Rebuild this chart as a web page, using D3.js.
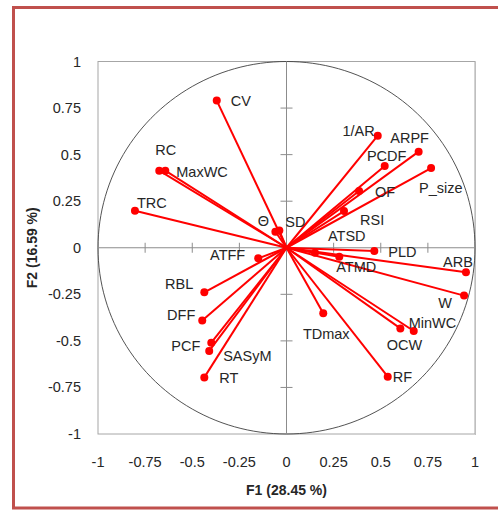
<!DOCTYPE html>
<html><head><meta charset="utf-8">
<script src="https://cdn.jsdelivr.net/npm/d3@7"></script>
<style>html,body{margin:0;padding:0;background:#fff;} svg{display:block;}</style>
</head><body>
<script>
// ---- data ----
const variables = ["CV","RC","MaxWC","TRC","Θ","SD","ATFF","1/AR","ARPF","PCDF","P_size","OF","RSI","ATSD","PLD","ATMD","ARB","W","MinWC","OCW","TDmax","RF","RBL","DFF","PCF","SASyM","RT"];
const f1 = [-0.370,-0.675,-0.643,-0.804,-0.059,-0.038,-0.150,0.484,0.701,0.521,0.767,0.385,0.305,0.151,0.466,0.280,0.952,0.942,0.675,0.604,0.195,0.537,-0.436,-0.447,-0.399,-0.410,-0.436];
const f2 = [0.790,0.414,0.414,0.199,0.086,0.092,-0.057,0.602,0.516,0.439,0.428,0.305,0.197,-0.027,-0.017,-0.048,-0.132,-0.257,-0.447,-0.433,-0.352,-0.692,-0.239,-0.390,-0.510,-0.554,-0.696];
const tickValues = [-1,-0.75,-0.5,-0.25,0,0.25,0.5,0.75,1];
const xTitle = "F1 (28.45 %)";
const yTitle = "F2 (16.59 %)";

// ---- label placement (layout) : [dx, dy, anchor] ----
const labelPlace = {
  "CV":[14,0,"start"],"RC":[-4,-21,"start"],"MaxWC":[11,1,"start"],"TRC":[2,-8,"start"],
  "Θ":[-12,-11,"middle"],"SD":[6,-9,"start"],"ATFF":[-13,-3,"end"],"1/AR":[-3,-5,"end"],
  "ARPF":[-9,-14,"middle"],"PCDF":[2,-10,"middle"],"P_size":[-12,20,"start"],"OF":[16,1,"start"],
  "RSI":[16,9,"start"],"ATSD":[13,-17,"start"],"PLD":[14,1,"start"],"ATMD":[-3,10,"start"],
  "ARB":[7,-10,"end"],"W":[-19,7,"middle"],"MinWC":[-5,-8,"start"],"OCW":[4,17,"middle"],
  "TDmax":[3,21,"middle"],"RF":[5,0,"start"],"RBL":[-11,-8,"end"],"DFF":[-7,-5,"end"],
  "PCF":[-11,3,"end"],"SASyM":[14,5,"start"],"RT":[15,1,"start"]
};

const W = 498, H = 510;
const svg = d3.select("body").append("svg").attr("width", W).attr("height", H);
const font = "'Liberation Sans', Arial, sans-serif";
const textCol = "#262626";

// outer red frame
svg.append("rect").attr("x",13.5).attr("y",7.5).attr("width",500).attr("height",500.5)
  .attr("fill","none").attr("stroke","#C0504D").attr("stroke-width",3);

const x = d3.scaleLinear().domain([-1,1]).range([98,475]);
const y = d3.scaleLinear().domain([-1,1]).range([434,61.5]);

// plot border
svg.append("rect").attr("x",x(-1)).attr("y",y(1)).attr("width",x(1)-x(-1)).attr("height",y(-1)-y(1))
  .attr("fill","none").attr("stroke","#A6A6A6").attr("stroke-width",1);
svg.append("line").attr("x1",x(1)+0.5).attr("x2",x(1)+0.5).attr("y1",y(1)).attr("y2",y(-1)+1)
  .attr("stroke","#BFBFBF").attr("stroke-width",1);

// unit circle
const circlePts = d3.range(0,361,2).map(a=>[Math.cos(a*Math.PI/180),Math.sin(a*Math.PI/180)]);
svg.append("path").datum(circlePts)
  .attr("d", d3.line().x(d=>x(d[0])).y(d=>y(d[1])))
  .attr("fill","none").attr("stroke","#404040").attr("stroke-width",0.9);

// center axes
svg.append("line").attr("x1",x(-1)).attr("x2",x(1)).attr("y1",y(0)).attr("y2",y(0)).attr("stroke","#8C8C8C");
svg.append("line").attr("x1",x(0)).attr("x2",x(0)).attr("y1",y(1)).attr("y2",y(-1)).attr("stroke","#8C8C8C");
const inner = tickValues.filter(v=>v!==-1 && v!==1 && v!==0);
svg.selectAll(".tx").data(inner).join("line")
  .attr("x1",d=>x(d)).attr("x2",d=>x(d)).attr("y1",y(0)-5).attr("y2",y(0)+5).attr("stroke","#8C8C8C");
svg.selectAll(".ty").data(inner).join("line")
  .attr("y1",d=>y(d)).attr("y2",d=>y(d)).attr("x1",x(0)-6).attr("x2",x(0)+6).attr("stroke","#8C8C8C");

// tick labels
const fmt = v => String(v);
svg.selectAll(".xl").data(tickValues).join("text")
  .attr("x",d=>x(d)).attr("y",467).attr("text-anchor","middle")
  .attr("font-family",font).attr("font-size",14.5).attr("fill",textCol).text(fmt);
svg.selectAll(".yl").data(tickValues).join("text")
  .attr("x",81).attr("y",d=>y(d)+5).attr("text-anchor","end")
  .attr("font-family",font).attr("font-size",14.5).attr("fill",textCol).text(fmt);

// axis titles
svg.append("text").attr("x",x(0)).attr("y",495).attr("text-anchor","middle")
  .attr("font-family",font).attr("font-size",14).attr("font-weight","bold").attr("fill",textCol).text(xTitle);
svg.append("text").attr("transform",`translate(37,${y(0)}) rotate(-90)`).attr("text-anchor","middle")
  .attr("font-family",font).attr("font-size",14).attr("font-weight","bold").attr("fill",textCol).text(yTitle);

// vectors
const data = variables.map((n,i)=>({name:n, v1:f1[i], v2:f2[i]}));
svg.selectAll(".vec").data(data).join("line")
  .attr("x1",x(0)).attr("y1",y(0)).attr("x2",d=>x(d.v1)).attr("y2",d=>y(d.v2))
  .attr("stroke","#FF0000").attr("stroke-width",2);
svg.selectAll(".dot").data(data).join("circle")
  .attr("cx",d=>x(d.v1)).attr("cy",d=>y(d.v2)).attr("r",4).attr("fill","#FF0000");
svg.selectAll(".lab").data(data).join("text")
  .attr("x",d=>x(d.v1)+labelPlace[d.name][0])
  .attr("y",d=>y(d.v2)+labelPlace[d.name][1])
  .attr("dy","0.35em")
  .attr("text-anchor",d=>labelPlace[d.name][2])
  .attr("font-family",font).attr("font-size",14.5).attr("fill",textCol).text(d=>d.name);
</script>
</body></html>
